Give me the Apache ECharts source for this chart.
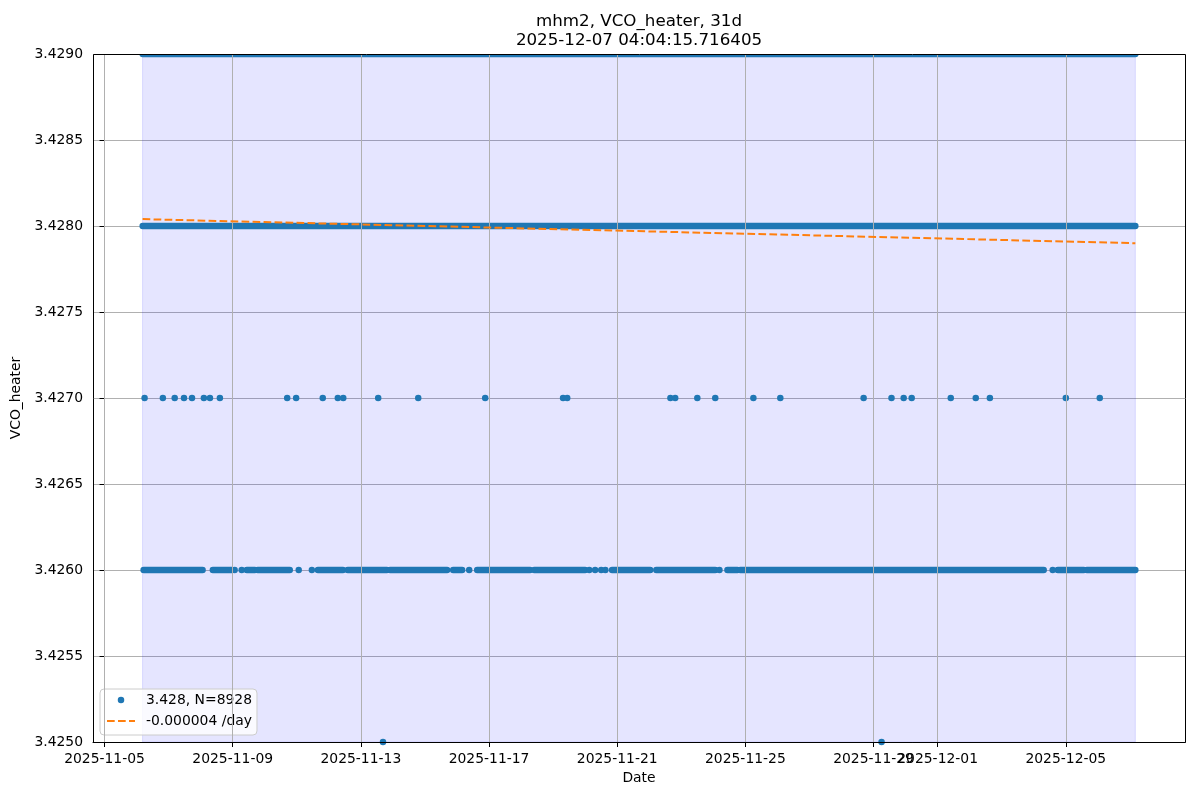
<!DOCTYPE html>
<html>
<head>
<meta charset="utf-8">
<title>mhm2, VCO_heater, 31d</title>
<script src="https://cdn.jsdelivr.net/npm/echarts@6/dist/echarts.min.js"></script>
<style>
  html, body { margin: 0; padding: 0; background: #fff; }
  #chart { width: 1200px; height: 800px; }
</style>
</head>
<body>
<div id="chart"></div>
<script>
// x values are days since 2025-11-05 00:00 UTC
var tickDates = ['2025-11-05', '2025-11-09', '2025-11-13', '2025-11-17', '2025-11-21',
                 '2025-11-25', '2025-11-29', '2025-12-01', '2025-12-05'];
var spanDays = [1.1875, 32.17];
var trendDays = [1.1875, 32.17];
var trendValues = [3.42804, 3.42790];

// stretches where the samples are so dense they merge into a band: [from, to]
var runs3429 = [[1.19, 32.17]];
var runs3428 = [[1.19, 32.17]];
var runs3426 = [[1.22, 3.06], [3.38, 3.97], [4.44, 4.69], [4.78, 5.78], [6.66, 7.44],
                [7.59, 8.81], [8.91, 10.69], [10.88, 11.16], [11.63, 13.28], [13.41, 15.0],
                [15.84, 17.03], [17.22, 19.06], [19.44, 19.75], [19.84, 29.31],
                [29.75, 30.56], [30.66, 32.17]];

// single readings
var dots3426 = [4.06, 4.28, 6.06, 6.47, 11.38, 15.13, 15.31, 15.5, 15.63, 19.19, 29.59];
var dots3427 = [1.25, 1.82, 2.19, 2.48, 2.73, 3.10, 3.29, 3.60, 5.70, 5.98, 6.81, 7.28,
                7.45, 8.54, 9.79, 11.88, 14.31, 14.44, 17.66, 17.81, 18.5, 19.06, 20.25,
                21.09, 23.69, 24.56, 24.94, 25.19, 26.41, 27.19, 27.63, 30.0, 31.06];
var dots3425 = [8.69, 24.25];

var seriesName = '3.428, N=8928';
var trendName = '-0.000004 /day';
var titleText = 'mhm2, VCO_heater, 31d\n2025-12-07 04:04:15.716405';

var BLUE = '#1f77b4';
var ORANGE = '#ff7f0e';
var FONT = 'DejaVu Sans';

function dayOf(str) {
    var p = str.split('-');
    return (Date.UTC(+p[0], +p[1] - 1, +p[2]) - Date.UTC(2025, 10, 5)) / 86400000;
}
var tickDays = tickDates.map(dayOf);

var chart = echarts.init(document.getElementById('chart'));

var series = [
    {
        type: 'line', data: [], z: 1, silent: true,
        markArea: {
            silent: true,
            itemStyle: { color: 'rgba(0,0,255,0.1)', borderColor: 'rgba(0,0,255,0.12)', borderWidth: 1 },
            data: [[{ xAxis: spanDays[0] }, { xAxis: spanDays[1] }]]
        }
    },
    {
        type: 'line', data: [], z: 2, silent: true,
        markLine: {
            silent: true, symbol: ['none', 'none'], label: { show: false },
            lineStyle: { color: '#b0b0b0', width: 1, type: 'solid' },
            data: tickDays.map(function (d) { return { xAxis: d }; })
        }
    }
];

function addRuns(runs, level) {
    runs.forEach(function (r) {
        series.push({
            type: 'line', name: 'band', z: 3, silent: true, symbol: 'none', clip: true,
            lineStyle: { color: BLUE, width: 6.5, cap: 'round' },
            data: [[r[0], level], [r[1], level]]
        });
    });
}
addRuns(runs3429, 3.4290);
addRuns(runs3428, 3.4280);
addRuns(runs3426, 3.4260);

var dots = [];
dots3427.forEach(function (d) { dots.push([d, 3.4270]); });
dots3426.forEach(function (d) { dots.push([d, 3.4260]); });
dots3425.forEach(function (d) { dots.push([d, 3.4250]); });

series.push({
    type: 'scatter', name: seriesName, z: 4, clip: true,
    symbol: 'circle', symbolSize: 6.5,
    itemStyle: { color: BLUE, opacity: 1 },
    data: dots
});
series.push({
    type: 'line', name: trendName, z: 5, symbol: 'none',
    lineStyle: { color: ORANGE, width: 2, type: [7.7, 3.3] },
    itemStyle: { color: ORANGE },
    data: [[trendDays[0], trendValues[0]], [trendDays[1], trendValues[1]]]
});

chart.setOption({
    animation: false,
    textStyle: { fontFamily: FONT },
    title: {
        text: titleText,
        left: 639, top: 12, padding: 0,
        textAlign: 'center',
        textStyle: { fontFamily: FONT, fontSize: 16.7, fontWeight: 'normal', color: '#000', lineHeight: 19 }
    },
    grid: { left: 93, right: 15, top: 54, bottom: 58, show: false },
    legend: {
        orient: 'vertical', left: 100, top: 689,
        padding: [3, 5, 6, 6],
        itemWidth: 28, itemHeight: 6.5, itemGap: 5,
        backgroundColor: 'rgba(255,255,255,0.8)',
        borderColor: '#cccccc', borderWidth: 1, borderRadius: 4,
        textStyle: { fontFamily: FONT, fontSize: 13.9, color: '#000', lineHeight: 16, padding: [0, 0, 0, 6] },
        data: [
            { name: seriesName, icon: 'circle' },
            { name: trendName, itemStyle: { opacity: 0 } }
        ]
    },
    xAxis: {
        type: 'value', min: -0.36, max: 33.72,
        name: 'Date', nameLocation: 'middle', nameGap: 29,
        nameTextStyle: { fontFamily: FONT, fontSize: 13.9, color: '#000' },
        axisLine: { show: true, onZero: false, lineStyle: { color: '#000', width: 1 } },
        axisTick: { show: true, length: 5, customValues: tickDays, lineStyle: { color: '#000' } },
        axisLabel: {
            customValues: tickDays, margin: 10,
            fontFamily: FONT, fontSize: 13.9, color: '#000',
            formatter: function (v) {
                var i = tickDays.indexOf(v);
                return i >= 0 ? tickDates[i] : '';
            }
        },
        splitLine: { show: false }
    },
    yAxis: {
        type: 'value', min: 3.425, max: 3.429, interval: 0.0005,
        name: 'VCO_heater', nameLocation: 'middle', nameGap: 60,
        nameTextStyle: { fontFamily: FONT, fontSize: 13.9, color: '#000' },
        axisLine: { show: true, lineStyle: { color: '#000', width: 1 } },
        axisTick: { show: true, length: 5, lineStyle: { color: '#000' } },
        axisLabel: {
            margin: 10, fontFamily: FONT, fontSize: 13.9, color: '#000',
            formatter: function (v) { return v.toFixed(4); }
        },
        splitLine: { show: true, lineStyle: { color: '#b0b0b0', width: 1 } }
    },
    graphic: [
        {
            // keep the marks inside the plot box at the top edge
            type: 'rect', z: 99, silent: true,
            shape: { x: 94, y: 49, width: 1091, height: 5.5 },
            style: { fill: '#fff' }
        },
        {
            type: 'rect', z: 100, silent: true,
            shape: { x: 93.5, y: 54.5, width: 1092, height: 688 },
            style: { fill: 'none', stroke: '#000', lineWidth: 1 }
        }
    ],
    series: series
});
</script>
</body>
</html>
